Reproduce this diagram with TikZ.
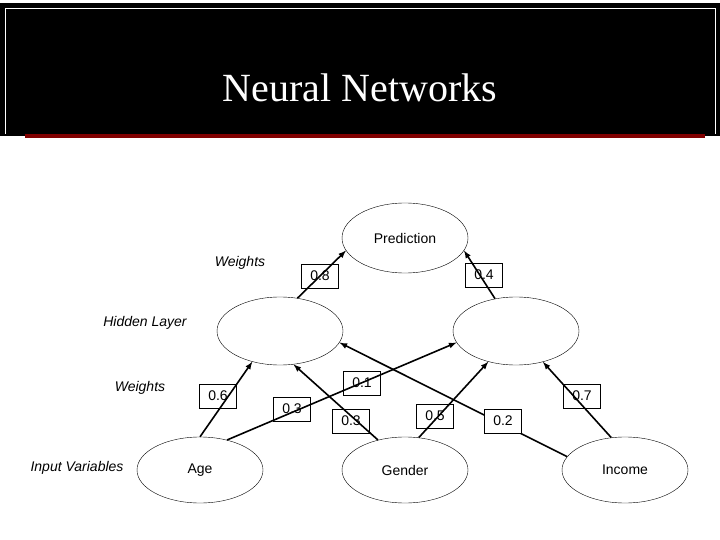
\documentclass[tikz,border=0pt]{standalone}
\usepackage{fontspec}
\setmainfont{Liberation Sans}
\newfontfamily\titlefont{Liberation Serif}
\usetikzlibrary{shapes.geometric}

\begin{document}
\begin{tikzpicture}[x=1pt,y=-1pt,
    unit/.style={ellipse,draw,thin,minimum width=126pt,minimum height=68pt,inner sep=0pt,font=\fontsize{14}{16}\selectfont},
    wbox/.style={draw,thin,minimum width=37pt,minimum height=24pt,inner sep=0pt,font=\fontsize{14}{16}\selectfont},
    side/.style={font=\fontsize{14}{16}\selectfont\itshape},
    link/.style={line width=1.6pt,-latex}]
  \useasboundingbox (0,0) rectangle (720,540);
  % header band
  \fill[black] (0,3) rectangle (720,136);
  \draw[white,thin] (5,134) -- (5,8) -- (715,8) -- (715,134);
  \fill[red!50!black] (25,134) rectangle (705,138);
  \node[text=white,font=\titlefont\fontsize{40}{44}\selectfont] (title) at (360,88) {Neural Networks};
  % nodes
  \node[unit,minimum height=70pt] (pred) at (405,238) {Prediction};
  \node[unit] (h1) at (280,331) {};
  \node[unit] (h2) at (516,331) {};
  \node[unit,minimum height=66pt] (age) at (200,470) {Age};
  \node[unit,minimum height=66pt] (gender) at (405,470) {Gender};
  \node[unit,minimum height=66pt] (income) at (625,470) {Income};
  % side labels
  \node[side] (w2) at (240,263) {Weights};
  \node[side] (hl) at (145,323) {Hidden Layer};
  \node[side] (w1) at (140,388) {Weights};
  \node[side] (iv) at (77,468) {Input Variables};
  % connectors
  \draw[link] (age.90) -- (h1.228);
  \draw[link] (age.48) -- (h2.191);
  \draw[link] (gender.132) -- (h1.292);
  \draw[link] (gender.67) -- (h2.228);
  \draw[link] (income.167) -- (h1.349);
  \draw[link] (income.113) -- (h2.311);
  \draw[link] (h1.62) -- (pred.192);
  \draw[link] (h2.123) -- (pred.348);
  % weights
  \node[wbox] (a1) at (218,396) {0.6};
  \node[wbox] (a2) at (292,409) {0.3};
  \node[wbox] (g1) at (351,421) {0.3};
  \node[wbox] (g2) at (435,416) {0.5};
  \node[wbox,fill=white] (i1) at (503,421) {0.2};
  \node[wbox] (i2) at (582,396) {0.7};
  \node[wbox] (x1) at (362,383) {0.1};
  \node[wbox] (p1) at (320,276) {0.8};
  \node[wbox] (p2) at (484,275) {0.4};
\end{tikzpicture}
\end{document}
